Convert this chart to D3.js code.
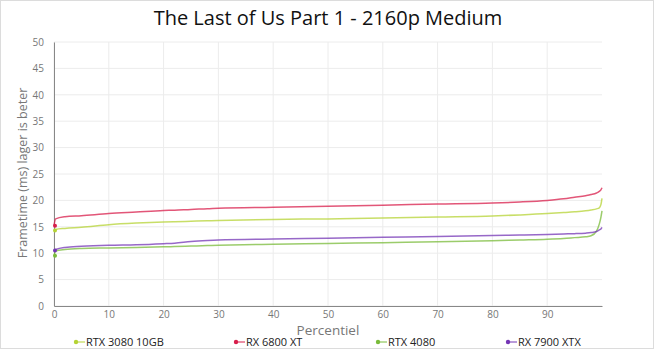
<!DOCTYPE html>
<html>
<head>
<meta charset="utf-8">
<script src="https://cdn.jsdelivr.net/npm/d3@7"></script>
<style>
  body { margin: 0; background: #fff; font-family: "Open Sans", "Noto Sans", sans-serif; }
</style>
</head>
<body>
<div id="chart"></div>
<script>
// data
const percentiles = [0, 0.3, 2, 5, 10, 15, 20, 22, 25, 28, 30, 40, 50, 60, 70, 80, 85, 90, 93, 95, 97, 98, 99, 99.5, 99.8, 100];
const rtx3080 = [14.3, 14.5, 14.7, 14.9, 15.4, 15.7, 15.9, 15.95, 16.05, 16.15, 16.2, 16.4, 16.5, 16.65, 16.85, 17.05, 17.25, 17.5, 17.7, 17.85, 18.05, 18.2, 18.4, 18.6, 19.2, 20.4];
const rx6800 = [15.2, 16.5, 16.9, 17.1, 17.5, 17.8, 18.1, 18.15, 18.3, 18.4, 18.5, 18.7, 18.9, 19.1, 19.3, 19.5, 19.7, 20.0, 20.3, 20.6, 20.9, 21.1, 21.4, 21.7, 22.0, 22.4];
const rtx4080 = [9.5, 10.4, 10.7, 10.9, 11.0, 11.1, 11.2, 11.25, 11.35, 11.45, 11.5, 11.7, 11.85, 12.0, 12.15, 12.35, 12.5, 12.65, 12.8, 12.95, 13.1, 13.3, 14.2, 15.5, 16.8, 18.0];
const rx7900 = [10.5, 10.7, 11.1, 11.3, 11.5, 11.6, 11.8, 11.9, 12.2, 12.4, 12.5, 12.7, 12.85, 13.0, 13.15, 13.35, 13.45, 13.55, 13.65, 13.7, 13.8, 13.9, 14.1, 14.4, 14.6, 14.9];
const seriesNames = ["RTX 3080 10GB", "RX 6800 XT", "RTX 4080", "RX 7900 XTX"];
const seriesColors = ["#b5d334", "#d81e4b", "#79bb3a", "#7436b5"];
const xTicks = [0, 10, 20, 30, 40, 50, 60, 70, 80, 90];
const yTicks = [0, 5, 10, 15, 20, 25, 30, 35, 40, 45, 50];

const W = 656, H = 351;
const margin = { top: 42, right: 54, bottom: 45, left: 54 };
const width = W - margin.left - margin.right;
const height = H - margin.top - margin.bottom;

const svg = d3.select("#chart").append("svg")
    .attr("width", W)
    .attr("height", H);

// outer frame
svg.append("rect")
    .attr("x", 0.5).attr("y", 0.5)
    .attr("width", W - 3).attr("height", H - 3)
    .attr("fill", "#fff")
    .attr("stroke", "#dcdcdc");

// title
svg.append("text")
    .attr("x", 328).attr("y", 25)
    .attr("text-anchor", "middle")
    .style("font-size", "20px")
    .style("fill", "#111")
    .text("The Last of Us Part 1 - 2160p Medium");

const g = svg.append("g")
    .attr("transform", `translate(${margin.left},${margin.top})`);

const x = d3.scaleLinear().domain([0, 100]).range([0, width]);
const y = d3.scaleLinear().domain([0, 50]).range([height, 0]);

// gridlines
g.append("g")
    .selectAll("line")
    .data(yTicks)
    .enter().append("line")
    .attr("x1", 0).attr("x2", width)
    .attr("y1", d => y(d)).attr("y2", d => y(d))
    .attr("stroke", "#ececec");

g.append("g")
    .selectAll("line")
    .data(xTicks)
    .enter().append("line")
    .attr("x1", d => x(d)).attr("x2", d => x(d))
    .attr("y1", 0).attr("y2", height)
    .attr("stroke", "#ececec");

// axes
const xAxis = g.append("g")
    .attr("transform", `translate(0,${height})`)
    .call(d3.axisBottom(x).tickValues(xTicks).tickSize(0).tickPadding(5));
xAxis.select(".domain").attr("stroke", "#888");

const yAxis = g.append("g")
    .call(d3.axisLeft(y).tickValues(yTicks).tickSize(0).tickPadding(10));
yAxis.select(".domain").attr("stroke", "#888");

svg.selectAll(".tick text")
    .style("font-size", "10px")
    .style("fill", "#777")
    .style("font-family", "'Open Sans', sans-serif");

// axis labels
svg.append("text")
    .attr("x", 328).attr("y", 335)
    .attr("text-anchor", "middle")
    .style("font-size", "13.5px")
    .style("fill", "#777")
    .text("Percentiel");

svg.append("text")
    .attr("transform", "rotate(-90)")
    .attr("x", -173)
    .attr("y", 27)
    .attr("text-anchor", "middle")
    .style("font-size", "12.5px")
    .style("fill", "#777")
    .text("Frametime (ms) lager is beter");

// lines
const allSeries = [rtx3080, rx6800, rtx4080, rx7900];
const line = d3.line()
    .x((d, i) => x(percentiles[i]))
    .y(d => y(d))
    .curve(d3.curveMonotoneX);

allSeries.forEach((vals, k) => {
    g.append("path")
        .datum(vals)
        .attr("fill", "none")
        .attr("stroke", seriesColors[k])
        .attr("stroke-opacity", 0.75)
        .attr("stroke-width", 1.5)
        .attr("d", line);
    g.append("circle")
        .attr("cx", x(percentiles[0]) + 1)
        .attr("cy", y(vals[0]))
        .attr("r", 2)
        .attr("fill", seriesColors[k]);
});

// legend
const legendX = [76, 236, 378, 508];
const legend = svg.selectAll(".legend")
    .data(seriesNames)
    .enter().append("g")
    .attr("class", "legend")
    .attr("transform", (d, i) => `translate(${legendX[i]},342)`);

legend.append("line")
    .attr("x1", 0).attr("x2", 9)
    .attr("stroke", (d, i) => seriesColors[i])
    .attr("stroke-width", 1);
legend.append("circle")
    .attr("r", 2.2)
    .attr("fill", (d, i) => seriesColors[i]);
legend.append("text")
    .attr("x", 10)
    .attr("dy", "0.35em")
    .style("font-size", "11px")
    .style("fill", "#222")
    .text(d => d);
</script>
</body>
</html>
